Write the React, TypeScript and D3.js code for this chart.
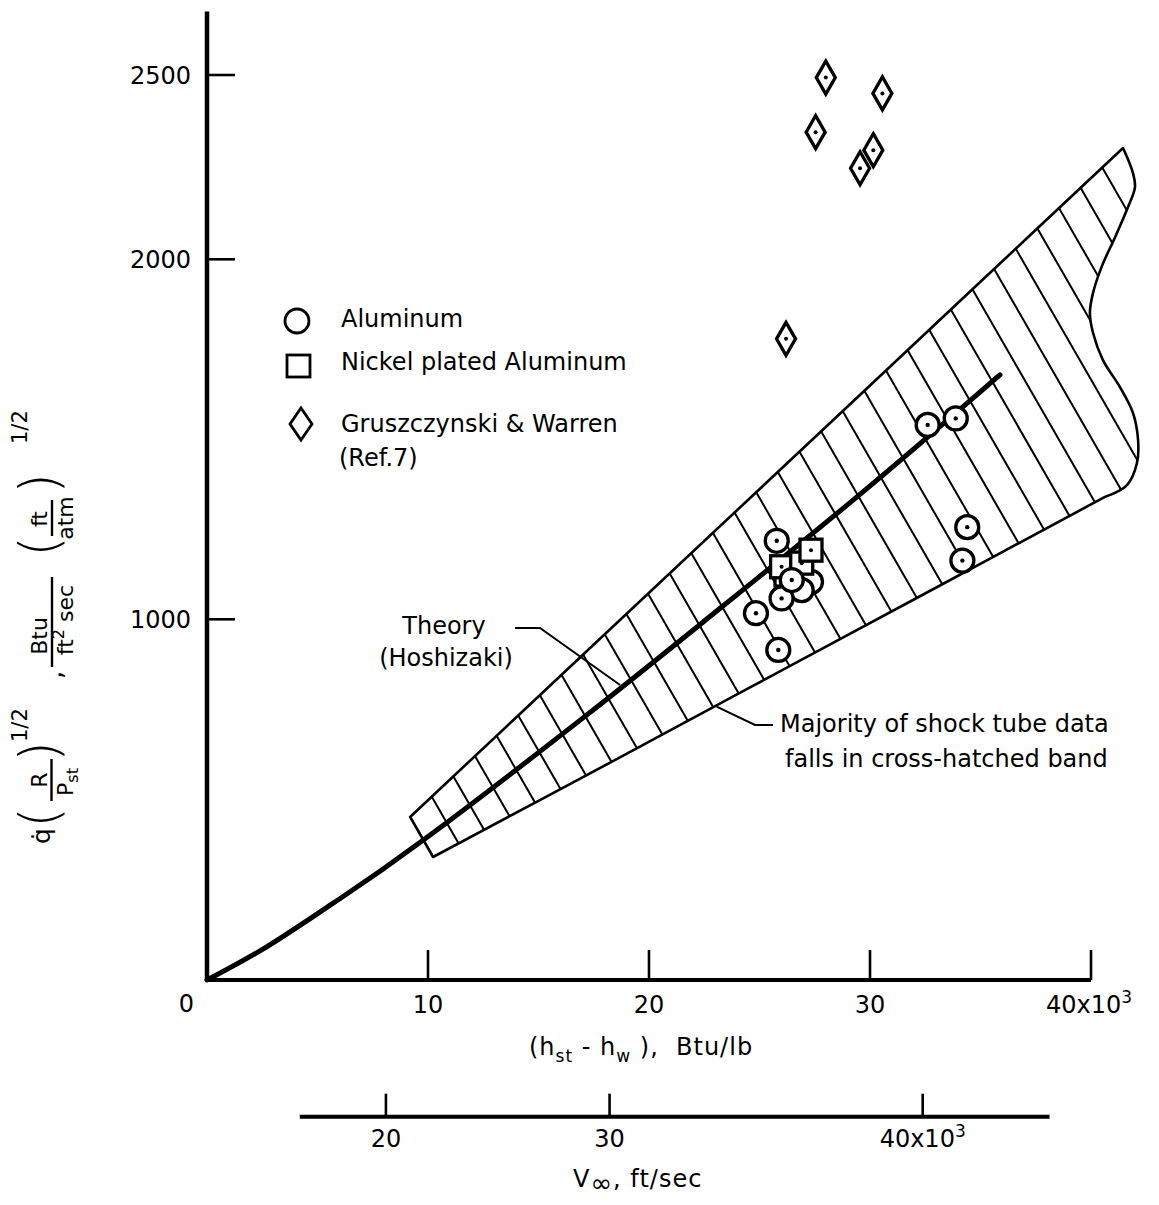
import * as d3 from "d3";

// axis ticks
const hTicks = [10, 20, 30, 40];
const qTicks = [1000, 2000, 2500];
const vTicks = [20, 30, 40];

// theory curve (Hoshizaki): h in 10^3 Btu/lb
const theoryH = [0, 2.7, 5.71, 9.79, 17.19, 22.44, 29.41, 35.88];
const theoryQ = [0, 92, 213, 388, 735, 992, 1340, 1679];

// shock tube band outline
const bandUpperH = [9.19, 17.19, 25.79, 34.66, 41.45];
const bandUpperQ = [452, 912, 1407, 1918, 2302];
const bandRightH = [41.45, 41.9, 41.99, 41.67, 41.09, 40.48, 40.09, 39.95, 40.09, 40.54, 41.31, 41.9, 42.13, 42.08, 41.63, 40.63];
const bandRightQ = [2302, 2234, 2196, 2141, 2060, 1979, 1906, 1851, 1796, 1720, 1645, 1573, 1498, 1434, 1373, 1340];
const bandLowerH = [40.63, 32.26, 25.48, 18.37, 10.23];
const bandLowerQ = [1340, 1064, 841, 607, 341];

// measurements
const aluminumH = [27.33, 26.91, 25.78, 26.0, 24.84, 25.85, 34.4, 34.18, 32.61, 33.88, 26.46];
const aluminumQ = [1104, 1081, 1218, 1058, 1017, 915, 1256, 1163, 1540, 1558, 1109];
const nickelH = [26.2, 26.0, 26.91, 27.33];
const nickelQ = [1123, 1146, 1156, 1192];
const warrenH = [28.0, 30.56, 27.54, 30.15, 29.55, 26.2];
const warrenQ = [2493, 2450, 2345, 2296, 2247, 1779];

// V = 40x10^3 ft/sec sits at about 32.4x10^3 Btu/lb
const hPerV2 = 0.02024;
const vAxisExtent = [14.4, 43.4];

const FONT = "'DejaVu Sans', sans-serif";
const NB = "\u00a0";

export default function App() {
  const width = 1159;
  const height = 1205;

  const x = d3.scaleLinear().domain([0, 40]).range([207, 1091]);
  // the printed scale is slightly stretched above 2000
  const y = d3.scaleLinear().domain([0, 1000, 2000, 2500]).range([980, 619.3, 259.3, 75]);
  const v = d3
    .scalePow()
    .exponent(2)
    .domain([0, 40])
    .range([x(0), x(40 * 40 * hPerV2)]);

  const yAxisTop = 2672;
  const vAxisY = 1116.7;

  const pts = (hs: number[], qs: number[]) => hs.map((h, i) => [x(h), y(qs[i])] as [number, number]);

  const theoryPath = d3.line().curve(d3.curveNatural)(pts(theoryH, theoryQ)) ?? "";

  const seg = d3.line().curve(d3.curveCatmullRom);
  const bandPath =
    (seg(pts(bandUpperH, bandUpperQ)) ?? "") +
    (seg(pts(bandRightH, bandRightQ)) ?? "").replace(/^M/, "L") +
    (seg(pts(bandLowerH, bandLowerQ)) ?? "").replace(/^M/, "L") +
    "Z";

  // hatching: parallel lines, the first one runs along the left end of the band
  const hatchX0 = x(bandUpperH[0]);
  const hatchY0 = y(bandUpperQ[0]);
  const hatchSlope = 0.575; // dx per dy
  const hatchStep = 33.3;
  const hatch = d3.range(0, 42).map((k) => {
    const c = hatchX0 + k * hatchStep;
    return { x1: c + (100 - hatchY0) * hatchSlope, y1: 100, x2: c + (900 - hatchY0) * hatchSlope, y2: 900 };
  });

  const circleR = 11.5;
  const sq = 22;
  const diamond = "M0,-16.5L9.5,0L0,16.5L-9.5,0Z";
  const markStroke = 3.3;

  const paren = { fontSize: 54, fontWeight: 200 as const };

  return (
    <svg
      width={width}
      height={height}
      viewBox={`0 0 ${width} ${height}`}
      style={{ position: "absolute", left: 0, top: 0, background: "#fff" }}
      fontFamily={FONT}
    >
      <defs>
        <clipPath id="bandClip">
          <path d={bandPath} />
        </clipPath>
      </defs>
      <rect width={width} height={height} fill="#fff" />

      {/* band */}
      <g clipPath="url(#bandClip)">
        {hatch.map((l, i) => (
          <line key={i} {...l} stroke="#000" strokeWidth={2} />
        ))}
      </g>
      <path d={bandPath} fill="none" stroke="#000" strokeWidth={2.6} strokeLinejoin="round" />

      {/* theory */}
      <path d={theoryPath} fill="none" stroke="#000" strokeWidth={5} strokeLinecap="round" />

      {/* axes */}
      <line x1={x(0)} x2={x(0)} y1={y(0)} y2={y(yAxisTop)} stroke="#000" strokeWidth={4.5} />
      <line x1={x(0)} x2={x(40)} y1={y(0)} y2={y(0)} stroke="#000" strokeWidth={4} />
      {hTicks.map((t) => (
        <line key={t} x1={x(t)} x2={x(t)} y1={y(0)} y2={y(0) - 30} stroke="#000" strokeWidth={2.6} />
      ))}
      {qTicks.map((t) => (
        <line key={t} x1={x(0)} x2={x(0) + 28} y1={y(t)} y2={y(t)} stroke="#000" strokeWidth={2.6} />
      ))}

      <g fontSize={24} fill="#000">
        {qTicks.map((t) => (
          <text key={t} x={191} y={y(t) + 8.5} textAnchor="end">
            {t}
          </text>
        ))}
        <text x={186.5} y={1012} textAnchor="middle">0</text>
        {hTicks.slice(0, 3).map((t) => (
          <text key={t} x={x(t)} y={1013} textAnchor="middle">
            {t}
          </text>
        ))}
        <text x={1046} y={1013}>
          40x10<tspan fontSize={17} dy={-10}>3</tspan>
        </text>

        <text x={529} y={1055} letterSpacing={1}>
          (h<tspan fontSize={17} dy={7}>st</tspan>
          <tspan dy={-7}>{`${NB}-${NB}h`}</tspan>
          <tspan fontSize={17} dy={7}>w</tspan>
          <tspan dy={-7}>{`${NB}),${NB}${NB}Btu/lb`}</tspan>
        </text>
      </g>

      {/* velocity axis */}
      <line x1={v(vAxisExtent[0])} x2={v(vAxisExtent[1])} y1={vAxisY} y2={vAxisY} stroke="#000" strokeWidth={4} />
      {vTicks.map((t) => (
        <line key={t} x1={v(t)} x2={v(t)} y1={vAxisY} y2={vAxisY - 23} stroke="#000" strokeWidth={2.6} />
      ))}
      <g fontSize={24} fill="#000">
        {vTicks.slice(0, 2).map((t) => (
          <text key={t} x={v(t)} y={1147} textAnchor="middle">
            {t}
          </text>
        ))}
        <text x={v(40)} y={1147} textAnchor="middle">
          40x10<tspan fontSize={17} dy={-10}>3</tspan>
        </text>
        <text x={573} y={1187} letterSpacing={1}>
          V<tspan fontSize={26} dy={5}>∞</tspan>
          <tspan dy={-5}>{`,${NB}ft/sec`}</tspan>
        </text>
      </g>

      {/* y title, rotated: x runs up the page, y runs right */}
      <g transform="rotate(-90)" fill="#000" fontSize={22}>
        <text x={-844} y={50} fontSize={25}>q̇</text>
        <text x={-828} y={58} {...paren}>(</text>
        <text x={-780} y={47} textAnchor="middle">R</text>
        <line x1={-801} x2={-759} y1={51.5} y2={51.5} stroke="#000" strokeWidth={2.4} />
        <text x={-782} y={73} textAnchor="middle">
          P<tspan fontSize={16} dy={5}>st</tspan>
        </text>
        <text x={-762} y={58} {...paren}>)</text>
        <text x={-742} y={27} fontSize={21}>1/2</text>
        <text x={-679} y={62} fontSize={26}>,</text>
        <text x={-636} y={47} textAnchor="middle">Btu</text>
        <line x1={-667} x2={-577} y1={52} y2={52} stroke="#000" strokeWidth={2.4} />
        <text x={-620} y={73} textAnchor="middle">
          ft<tspan fontSize={16} dy={-9}>2</tspan>
          <tspan dy={9}>{`${NB}sec`}</tspan>
        </text>
        <text x={-557} y={58} {...paren}>(</text>
        <text x={-519} y={47} textAnchor="middle">ft</text>
        <line x1={-536} x2={-500} y1={52} y2={52} stroke="#000" strokeWidth={2.4} />
        <text x={-518} y={73} textAnchor="middle">atm</text>
        <text x={-494} y={58} {...paren}>)</text>
        <text x={-444} y={27} fontSize={21}>1/2</text>
      </g>

      {/* data */}
      <g stroke="#000" strokeWidth={markStroke} fill="#fff">
        {warrenH.map((h, i) => (
          <g key={i} transform={`translate(${x(h)},${y(warrenQ[i])})`}>
            <path d={diamond} />
            <circle r={2} fill="#000" stroke="none" />
          </g>
        ))}
        {aluminumH.slice(0, 2).map((h, i) => (
          <g key={i} transform={`translate(${x(h)},${y(aluminumQ[i])})`}>
            <circle r={circleR} />
          </g>
        ))}
        {nickelH.map((h, i) => (
          <g key={i} transform={`translate(${x(h)},${y(nickelQ[i])})`}>
            <rect x={-sq / 2} y={-sq / 2} width={sq} height={sq} />
            <circle r={2} fill="#000" stroke="none" />
          </g>
        ))}
        {aluminumH.slice(2).map((h, i) => (
          <g key={i} transform={`translate(${x(h)},${y(aluminumQ[i + 2])})`}>
            <circle r={circleR} />
            <circle r={2.2} fill="#000" stroke="none" />
          </g>
        ))}
      </g>

      {/* legend */}
      <g stroke="#000" strokeWidth={2.8} fill="#fff">
        <circle cx={297} cy={321} r={12} />
        <rect x={287} y={355} width={23} height={22} />
        <path d="M301,408L312,424L301,440L290,424Z" />
      </g>
      <g fontSize={24} fill="#000">
        <text x={341} y={327}>Aluminum</text>
        <text x={341} y={370}>Nickel plated Aluminum</text>
        <text x={341} y={432}>Gruszczynski &amp; Warren</text>
        <text x={339} y={466}>(Ref.7)</text>
      </g>

      {/* annotations */}
      <g fill="none" stroke="#000" strokeWidth={2}>
        <polyline points={`515,628 540,628 ${x(18.69)},${y(818)}`} />
        <polyline points={`${x(23.06)},${y(758)} 755,725 773,725`} />
      </g>
      <g fontSize={24} fill="#000">
        <text x={444} y={634} textAnchor="middle">Theory</text>
        <text x={446} y={666} textAnchor="middle">(Hoshizaki)</text>
        <text x={780} y={732}>Majority of shock tube data</text>
        <text x={785} y={767}>falls in cross-hatched band</text>
      </g>
    </svg>
  );
}
